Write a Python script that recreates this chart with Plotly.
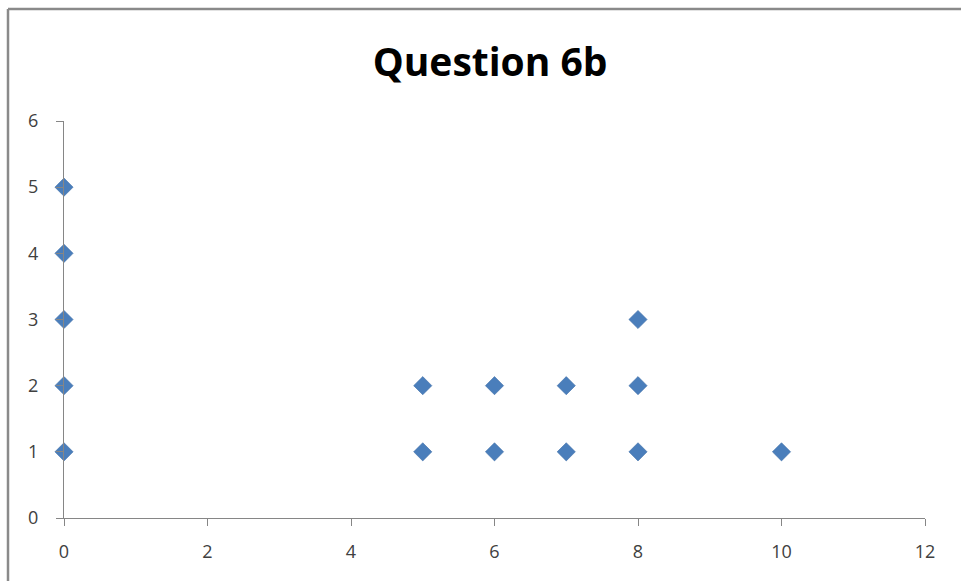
import plotly.graph_objects as go

# Observations for question 6b
x_values = [0, 0, 0, 0, 0, 5, 5, 6, 6, 7, 7, 8, 8, 8, 10]
y_values = [1, 2, 3, 4, 5, 1, 2, 1, 2, 1, 2, 1, 2, 3, 1]

x_ticks = [0, 2, 4, 6, 8, 10, 12]
y_ticks = [0, 1, 2, 3, 4, 5, 6]

title_text = "Question 6b"

W, H = 961, 581
L, R, T, B = 64, 36, 121, 63

fig = go.Figure(
    go.Scatter(
        x=x_values,
        y=y_values,
        mode="markers",
        marker=dict(symbol="diamond", size=14, color="#4a7ebb",
                    line=dict(width=0.6, color="#3f6fa8")),
        cliponaxis=False,
        hoverinfo="x+y",
    )
)

axis_style = dict(
    showgrid=False,
    zeroline=False,
    showline=True,
    linecolor="#868686",
    linewidth=1,
    ticks="outside",
    ticklen=7,
    tickcolor="#868686",
    tickfont=dict(family="Open Sans, Lato, sans-serif", size=18, color="#404040"),
    fixedrange=True,
)

fig.update_xaxes(range=[0, 12], tickvals=x_ticks, ticklabelstandoff=10, **axis_style)
fig.update_yaxes(range=[0, 6], tickvals=y_ticks, ticklabelstandoff=14, **axis_style)

# Chart frame (top and left edges visible within the view)
pw, ph = W - L - R, H - T - B
fx = (8 - L) / pw
fy = (H - B - 9) / ph
fig.add_shape(type="line", xref="paper", yref="paper", x0=fx, x1=1.2, y0=fy, y1=fy,
              line=dict(color="#8a8a8a", width=2.5))
fig.add_shape(type="line", xref="paper", yref="paper", x0=fx, x1=fx, y0=fy, y1=-0.3,
              line=dict(color="#8a8a8a", width=2.5))

fig.update_layout(
    width=W,
    height=H,
    margin=dict(l=L, r=R, t=T, b=B),
    paper_bgcolor="white",
    plot_bgcolor="white",
    showlegend=False,
    title=dict(
        text="<b>" + title_text + "</b>",
        font=dict(family="Open Sans, Lato, sans-serif", size=39, color="#000000"),
        x=0.51,
        xanchor="center",
        y=1 - 62 / H,
        yanchor="middle",
    ),
)

fig.write_html("out.html")
